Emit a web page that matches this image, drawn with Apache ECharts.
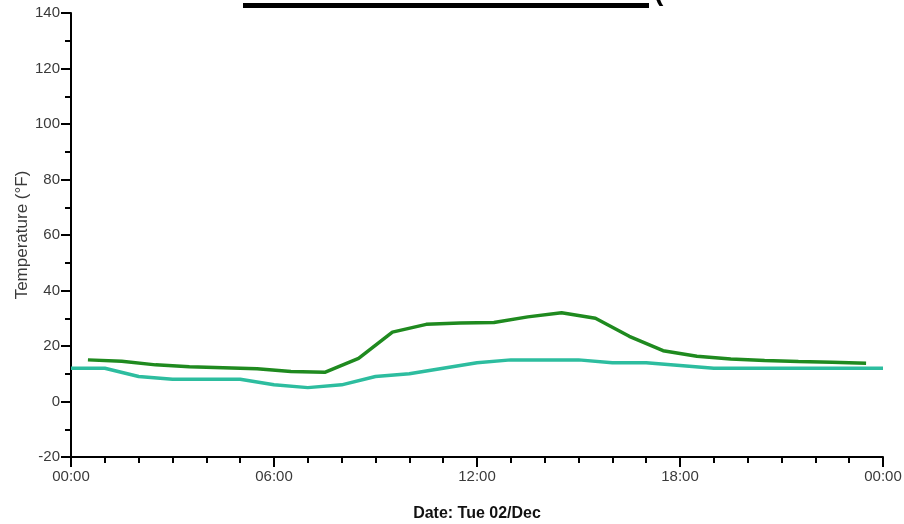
<!DOCTYPE html>
<html>
<head>
<meta charset="utf-8">
<script src="https://cdn.jsdelivr.net/npm/echarts@6/dist/echarts.min.js"></script>
<style>
  html, body { margin: 0; padding: 0; background: #fff; }
  #chart { width: 904px; height: 524px; }
</style>
</head>
<body>
<div id="chart"></div>
<script>
// Hourly readings for Tue 02/Dec, times in hours since midnight
const upperHours = [0.5, 1.5, 2.5, 3.5, 4.5, 5.5, 6.5, 7.5, 8.5, 9.5, 10.5, 11.5,
                    12.5, 13.5, 14.5, 15.5, 16.5, 17.5, 18.5, 19.5, 20.5, 21.5, 22.5, 23.5];
const upperTemps = [15.0, 14.5, 13.2, 12.5, 12.2, 11.8, 10.8, 10.5, 15.5, 25.0, 27.8, 28.3,
                    28.5, 30.5, 32.0, 30.0, 23.5, 18.3, 16.3, 15.3, 14.8, 14.4, 14.1, 13.8];

const lowerHours = [0, 1, 2, 3, 4, 5, 6, 7, 8, 9, 10, 11, 12,
                    13, 14, 15, 16, 17, 18, 19, 20, 21, 22, 23, 24];
const lowerTemps = [12, 12, 9, 8, 8, 8, 6, 5, 6, 9, 10, 12, 14,
                    15, 15, 15, 14, 14, 13, 12, 12, 12, 12, 12, 12];

const xTickLabels = ['00:00', '06:00', '12:00', '18:00', '00:00'];

const pairs = (xs, ys) => xs.map((x, i) => [x, ys[i]]);

const chart = echarts.init(document.getElementById('chart'), null, { renderer: 'canvas' });

const axisFont = { fontFamily: 'Liberation Sans, Arial, sans-serif', fontSize: 15, color: '#3a3a3a' };

chart.setOption({
  animation: false,
  backgroundColor: '#ffffff',
  grid: { left: 71, right: 21, top: 13, bottom: 67, containLabel: false, outerBoundsMode: 'none' },
  xAxis: {
    type: 'value',
    min: 0, max: 24, interval: 6,
    name: 'Date: Tue 02/Dec',
    nameLocation: 'middle',
    nameGap: 49,
    nameTextStyle: { fontFamily: 'Liberation Sans, Arial, sans-serif', fontSize: 16, fontWeight: 'bold', color: '#111' },
    axisLine: { show: true, onZero: false, lineStyle: { color: '#000', width: 2 } },
    axisTick: { show: true, length: 10, lineStyle: { color: '#000', width: 2 } },
    minorTick: { show: true, splitNumber: 6, length: 6, lineStyle: { color: '#000', width: 2 } },
    splitLine: { show: false },
    axisLabel: Object.assign({}, axisFont, {
      margin: 12,
      formatter: v => xTickLabels[Math.round(v / 6)] || ''
    })
  },
  yAxis: {
    type: 'value',
    min: -20, max: 140, interval: 20,
    name: 'Temperature (°F)',
    nameLocation: 'middle',
    nameGap: 40,
    nameMoveOverlap: false,
    nameRotate: 90,
    nameTextStyle: { fontFamily: 'Liberation Sans, Arial, sans-serif', fontSize: 17, color: '#3a3a3a' },
    axisLine: { show: true, onZero: false, lineStyle: { color: '#000', width: 2 } },
    axisTick: { show: true, length: 10, lineStyle: { color: '#000', width: 2 } },
    minorTick: { show: true, splitNumber: 2, length: 6, lineStyle: { color: '#000', width: 2 } },
    splitLine: { show: false },
    axisLabel: Object.assign({}, axisFont, { margin: 11 })
  },
  series: [
    {
      type: 'line',
      data: pairs(upperHours, upperTemps),
      showSymbol: false,
      lineStyle: { color: '#1f8a1f', width: 3.5 },
      itemStyle: { color: '#1f8a1f' },
      z: 3
    },
    {
      type: 'line',
      data: pairs(lowerHours, lowerTemps),
      showSymbol: false,
      lineStyle: { color: '#2dbd9f', width: 3.5 },
      itemStyle: { color: '#2dbd9f' },
      z: 2
    }
  ],
  graphic: [
    { type: 'rect', left: 243, top: 3, shape: { width: 406, height: 5 }, style: { fill: '#000' } },
    { type: 'text', left: 654, top: -22, style: { text: '(', font: 'bold 28px Liberation Sans, Arial, sans-serif', fill: '#000' } }
  ]
});
</script>
</body>
</html>
